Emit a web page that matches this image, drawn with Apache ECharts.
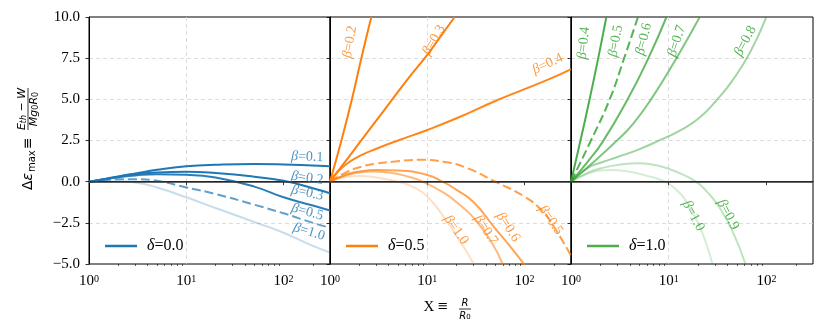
<!DOCTYPE html>
<html>
<head>
<meta charset="utf-8">
<script src="https://cdn.jsdelivr.net/npm/echarts@6/dist/echarts.min.js"></script>
<style>
html, body { margin: 0; padding: 0; background: #fff; }
#main { width: 830px; height: 336px; }
</style>
</head>
<body>
<div id="main"></div>
<script>
// axis ticks
var xTicks = [1, 10, 100];
var xMinor = [2, 3, 4, 5, 6, 7, 8, 9, 20, 30, 40, 50, 60, 70, 80, 90, 200];

// delta = 0.0 (all beta curves share x)
var x00 = [1, 1.5, 2, 3, 5, 10, 20, 50, 100, 200, 300];
var y00_b01 = [0, 0.18, 0.32, 0.5, 0.72, 0.93, 1.03, 1.08, 1.05, 0.98, 0.94];
var y00_b02 = [0, 0.17, 0.3, 0.45, 0.56, 0.6, 0.52, 0.3, 0.05, -0.4, -0.7];
var y00_b03 = [0, 0.16, 0.27, 0.38, 0.45, 0.42, 0.25, -0.3, -0.95, -1.45, -1.75];
var y00_b05 = [0, 0.1, 0.15, 0.15, 0.05, -0.35, -0.75, -1.4, -1.92, -2.5, -2.8];
var y00_b10 = [0, 0.02, 0.02, -0.05, -0.35, -0.95, -1.6, -2.45, -3.1, -3.9, -4.3];

// delta = 0.5
var x05_b02 = [1, 1.31, 1.68, 2.1, 2.66];
var y05_b02 = [0, 2.5, 5, 7.5, 10];
var x05_b03 = [1, 1.5, 2.02, 3, 4.27, 6.5, 10, 14, 19.1];
var y05_b03 = [0, 1.37, 2.38, 3.72, 4.92, 6.34, 7.7, 8.9, 10];
var x05_b04 = [1, 1.2, 1.5, 2, 3, 5, 10, 20, 50, 100, 200, 300];
var y05_b04 = [0, 0.6, 1.1, 1.55, 2.0, 2.5, 3.14, 3.85, 4.9, 5.62, 6.35, 6.84];
var x05_b05 = [1, 1.5, 2.1, 3, 4.6, 8.5, 15, 25, 50, 100, 150, 200, 300];
var y05_b05 = [0, 0.6, 0.91, 1.1, 1.22, 1.33, 1.2, 0.85, 0.0, -0.91, -1.75, -2.74, -4.5];
var x05_b06 = [1, 1.5, 2, 3, 5, 10, 14.4, 20, 30, 50, 70, 100];
var y05_b06 = [0, 0.45, 0.62, 0.71, 0.68, 0.41, 0, -0.5, -1.25, -2.85, -3.88, -5.05];
var x05_b07 = [1, 1.5, 2, 2.65, 4, 6, 9, 15, 22, 30, 45, 60];
var y05_b07 = [0, 0.4, 0.55, 0.61, 0.55, 0.35, 0, -0.7, -1.45, -2.2, -3.6, -5.05];
var x05_b10 = [1, 1.5, 2, 3, 5, 7, 10, 15, 20, 25, 30];
var y05_b10 = [0, 0.3, 0.35, 0.25, 0, -0.3, -0.9, -2.2, -3.3, -4.2, -5.0];

// delta = 1.0
var x10_b04 = [1, 1.25, 1.55, 1.9, 2.3];
var y10_b04 = [0, 2.5, 5, 7.5, 10];
var x10_b05 = [1, 1.6, 2.49, 3.5, 4.85];
var y10_b05 = [0, 2.5, 5, 7.5, 10];
var x10_b06 = [1, 1.5, 2.1, 3.8, 6.2, 9.5];
var y10_b06 = [0, 1.25, 2.4, 5, 7.5, 10];
var x10_b07 = [1, 1.5, 2.9, 4.3, 6.6, 12, 20.8];
var y10_b07 = [0, 0.9, 2.45, 3.5, 5, 7.5, 10];
var x10_b08 = [1, 1.5, 2, 3, 4.9, 8.1, 13, 20.8, 32, 45, 68, 100];
var y10_b08 = [0, 0.85, 1.15, 1.5, 1.95, 2.52, 3.1, 3.9, 5.05, 6.15, 7.85, 10];
var x10_b09 = [1, 1.5, 2, 3, 5, 8, 12, 19, 25, 32.5, 45, 61];
var y10_b09 = [0, 0.55, 0.8, 1.02, 1.12, 0.95, 0.6, 0, -0.65, -1.5, -3.0, -5.0];
var x10_b10 = [1, 1.5, 2, 2.5, 4, 6, 9.2, 12, 14.8, 20, 25, 28];
var y10_b10 = [0, 0.5, 0.68, 0.71, 0.6, 0.35, 0, -0.5, -1.1, -2.5, -4.0, -5.0];

// inline curve labels
var lab00_text = ['0.1', '0.2', '0.3', '0.5', '1.0'];
var lab00_x = [175, 175, 175, 175, 183];
var lab00_y = [1.5, 0.22, -0.69, -1.84, -3.05];
var lab00_rot = [-2, -8, -12, -15, -17];

var lab05_text = ['0.2', '0.3', '0.4', '0.5', '0.6', '0.7', '1.0'];
var lab05_x = [1.6, 11.7, 173, 186, 67.5, 40, 19.8];
var lab05_y = [8.48, 8.6, 7.15, -2.34, -2.75, -2.93, -2.93];
var lab05_rot = [80, 60, 25, -55, -57, -57, -55];

var lab10_text = ['0.4', '0.5', '0.6', '0.7', '0.8', '0.9', '1.0'];
var lab10_x = [1.35, 2.87, 5.56, 12.1, 61, 40.5, 17.9];
var lab10_y = [8.42, 8.54, 8.66, 8.54, 8.54, -2.0, -2.08];
var lab10_rot = [84, 80, 76, 72, 62, -62, -62];

var deltaNames = ['δ=0.0', 'δ=0.5', 'δ=1.0'];

var blue = '#1f77b4', orange = '#ff7f0e', green = '#2ca02c';
var colors = [blue, orange, green];
var gridLeft = [89, 330, 571];
var gridWidth = [241, 241, 242];
var serif = 'Liberation Serif';

var myChart = echarts.init(document.getElementById('main'));

function pairs(xs, ys) {
    return xs.map(function (x, i) { return [x, ys[i]]; });
}

function curve(g, name, xs, ys, alpha, dashed) {
    return {
        type: 'line',
        name: name,
        xAxisIndex: g * 2,
        yAxisIndex: g,
        data: pairs(xs, ys),
        symbol: 'none',
        showSymbol: false,
        smooth: 0.5,
        silent: true,
        z: 3,
        lineStyle: { color: colors[g], width: 2, opacity: alpha, type: dashed ? [9, 4] : 'solid' },
        itemStyle: { color: colors[g], opacity: alpha }
    };
}

function zeroLine(g) {
    return {
        type: 'line',
        xAxisIndex: g * 2,
        yAxisIndex: g,
        data: [],
        silent: true,
        z: 4,
        markLine: {
            silent: true,
            symbol: 'none',
            label: { show: false },
            lineStyle: { color: '#333', width: 1.5, type: 'solid' },
            data: [{ yAxis: 0 }]
        }
    };
}

function labels(g, texts, xs, ys, rots) {
    return {
        type: 'scatter',
        xAxisIndex: g * 2,
        yAxisIndex: g,
        silent: true,
        symbolSize: 1,
        z: 6,
        itemStyle: { color: 'rgba(0,0,0,0)' },
        data: texts.map(function (t, i) {
            return {
                value: [xs[i], ys[i]],
                label: {
                    show: true,
                    position: 'inside',
                    rotate: rots[i],
                    formatter: '{b|β}{n|=' + t + '}',
                    rich: {
                        b: { fontFamily: serif, fontStyle: 'italic', fontSize: 14, color: colors[g] },
                        n: { fontFamily: serif, fontSize: 14, color: colors[g] }
                    }
                }
            };
        })
    };
}

var grids = [], xAxes = [], yAxes = [], legends = [];
[0, 1, 2].forEach(function (g) {
    grids.push({
        left: gridLeft[g], top: 17, width: gridWidth[g], height: 247,
        show: true, borderColor: '#000', borderWidth: 1, backgroundColor: 'transparent'
    });
    xAxes.push({
        type: 'log', logBase: 10, gridIndex: g, min: 1, max: 300, position: 'bottom',
        axisLine: { show: true, lineStyle: { color: '#000', width: 1 } },
        axisTick: { show: true, customValues: xTicks, length: 3.5, lineStyle: { color: '#000', width: 0.8 } },
        axisLabel: {
            show: true, customValues: xTicks, margin: 10,
            formatter: function (v) { return '{b|10}{s|' + Math.round(Math.log10(v)) + '}'; },
            rich: {
                b: { fontFamily: serif, fontSize: 15, color: '#000' },
                s: { fontFamily: serif, fontSize: 10, color: '#000', verticalAlign: 'top', padding: [0, 0, 5, 0] }
            }
        },
        splitLine: { show: true, showMinLine: false, showMaxLine: false, lineStyle: { color: '#d4d4d4', width: 0.8, type: [4, 3] } }
    });
    xAxes.push({
        type: 'log', logBase: 10, gridIndex: g, min: 1, max: 300, position: 'bottom',
        axisLine: { show: false },
        axisTick: { show: true, customValues: xMinor, length: 2, lineStyle: { color: '#000', width: 0.6 } },
        axisLabel: { show: false },
        splitLine: { show: false }
    });
    yAxes.push({
        type: 'value', gridIndex: g, min: -5, max: 10, interval: 2.5,
        axisLine: { show: true, lineStyle: { color: '#000', width: 1 } },
        axisTick: { show: true, length: 3.5, lineStyle: { color: '#000', width: 0.8 } },
        axisLabel: {
            show: g === 0, margin: 9, color: '#000', fontFamily: serif, fontSize: 15,
            formatter: function (v) { return v.toFixed(1).replace('-', '−'); }
        },
        splitLine: { show: true, showMinLine: false, showMaxLine: false, lineStyle: { color: '#d4d4d4', width: 0.8, type: [4, 3] } }
    });
    legends.push({
        data: [deltaNames[g]],
        left: gridLeft[g] + 11, top: 233,
        icon: 'rect',
        itemWidth: 32, itemHeight: 2.5,
        selectedMode: false,
        formatter: function (name) { return '{i|δ}{n|' + name.slice(1) + '}'; },
        textStyle: {
            rich: {
                i: { fontFamily: serif, fontStyle: 'italic', fontSize: 16, color: '#000', padding: [0, 0, 0, 5] },
                n: { fontFamily: serif, fontSize: 16, color: '#000' }
            }
        }
    });
});

var series = [
    zeroLine(0), zeroLine(1), zeroLine(2),
    curve(0, deltaNames[0], x00, y00_b01, 1, false),
    curve(0, 'b02_0', x00, y00_b02, 1, false),
    curve(0, 'b03_0', x00, y00_b03, 0.95, false),
    curve(0, 'b05_0', x00, y00_b05, 0.7, true),
    curve(0, 'b10_0', x00, y00_b10, 0.25, false),
    curve(1, deltaNames[1], x05_b02, y05_b02, 1, false),
    curve(1, 'b03_1', x05_b03, y05_b03, 1, false),
    curve(1, 'b04_1', x05_b04, y05_b04, 0.95, false),
    curve(1, 'b05_1', x05_b05, y05_b05, 0.75, true),
    curve(1, 'b06_1', x05_b06, y05_b06, 0.7, false),
    curve(1, 'b07_1', x05_b07, y05_b07, 0.55, false),
    curve(1, 'b10_1', x05_b10, y05_b10, 0.25, false),
    curve(2, deltaNames[2], x10_b04, y10_b04, 0.85, false),
    curve(2, 'b05_2', x10_b05, y10_b05, 0.8, true),
    curve(2, 'b06_2', x10_b06, y10_b06, 0.72, false),
    curve(2, 'b07_2', x10_b07, y10_b07, 0.6, false),
    curve(2, 'b08_2', x10_b08, y10_b08, 0.45, false),
    curve(2, 'b09_2', x10_b09, y10_b09, 0.3, false),
    curve(2, 'b10_2', x10_b10, y10_b10, 0.2, false),
    labels(0, lab00_text, lab00_x, lab00_y, lab00_rot),
    labels(1, lab05_text, lab05_x, lab05_y, lab05_rot),
    labels(2, lab10_text, lab10_x, lab10_y, lab10_rot)
];

var sans = 'DejaVu Sans';
option = {
    backgroundColor: '#fff',
    animation: false,
    grid: grids,
    xAxis: xAxes,
    yAxis: yAxes,
    legend: legends,
    series: series,
    graphic: [
        {
            type: 'group', x: 28, y: 139, rotation: Math.PI / 2,
            children: [
                { type: 'text', x: -51, y: 0, style: { text: 'Δ', fontFamily: sans, fontSize: 14, fill: '#000', verticalAlign: 'middle' } },
                { type: 'text', x: -41.5, y: 0, style: { text: 'ε', fontFamily: sans, fontStyle: 'italic', fontSize: 14, fill: '#000', verticalAlign: 'middle' } },
                { type: 'text', x: -33, y: 4, style: { text: 'max', fontFamily: sans, fontSize: 10, fill: '#000', verticalAlign: 'middle' } },
                { type: 'text', x: -10, y: 0, style: { text: '≡', fontFamily: sans, fontSize: 14, fill: '#000', verticalAlign: 'middle' } },
                {
                    type: 'text', x: 30, y: -6,
                    style: {
                        text: '{i|E}{s|th}{m| − }{i|W}', align: 'center', verticalAlign: 'middle',
                        rich: {
                            i: { fontFamily: sans, fontStyle: 'italic', fontSize: 11, fill: '#000' },
                            s: { fontFamily: sans, fontStyle: 'italic', fontSize: 8, fill: '#000', verticalAlign: 'bottom' },
                            m: { fontFamily: sans, fontSize: 11, fill: '#000' }
                        }
                    }
                },
                { type: 'line', shape: { x1: 9, y1: 0, x2: 51, y2: 0 }, style: { stroke: '#000', lineWidth: 0.8 } },
                {
                    type: 'text', x: 30, y: 6,
                    style: {
                        text: '{i|Mg}{s|0}{i|R}{s|0}', align: 'center', verticalAlign: 'middle',
                        rich: {
                            i: { fontFamily: sans, fontStyle: 'italic', fontSize: 11, fill: '#000' },
                            s: { fontFamily: sans, fontSize: 8, fill: '#000', verticalAlign: 'bottom' }
                        }
                    }
                }
            ]
        },
        { type: 'text', x: 429, y: 307, style: { text: 'X', fontFamily: serif, fontSize: 15, fill: '#000', align: 'center', verticalAlign: 'middle' } },
        { type: 'text', x: 443, y: 307, style: { text: '≡', fontFamily: sans, fontSize: 13, fill: '#000', align: 'center', verticalAlign: 'middle' } },
        { type: 'text', x: 465, y: 303, style: { text: 'R', fontFamily: sans, fontStyle: 'italic', fontSize: 10, fill: '#000', align: 'center', verticalAlign: 'middle' } },
        { type: 'line', shape: { x1: 459, y1: 309, x2: 471, y2: 309 }, style: { stroke: '#000', lineWidth: 0.8 } },
        {
            type: 'text', x: 465, y: 316,
            style: {
                text: '{i|R}{s|0}', align: 'center', verticalAlign: 'middle',
                rich: {
                    i: { fontFamily: sans, fontStyle: 'italic', fontSize: 10, fill: '#000' },
                    s: { fontFamily: sans, fontSize: 7, fill: '#000', verticalAlign: 'bottom' }
                }
            }
        }
    ]
};

myChart.setOption(option);

window.addEventListener('resize', function () {
    myChart.resize();
});
</script>
</body>
</html>
